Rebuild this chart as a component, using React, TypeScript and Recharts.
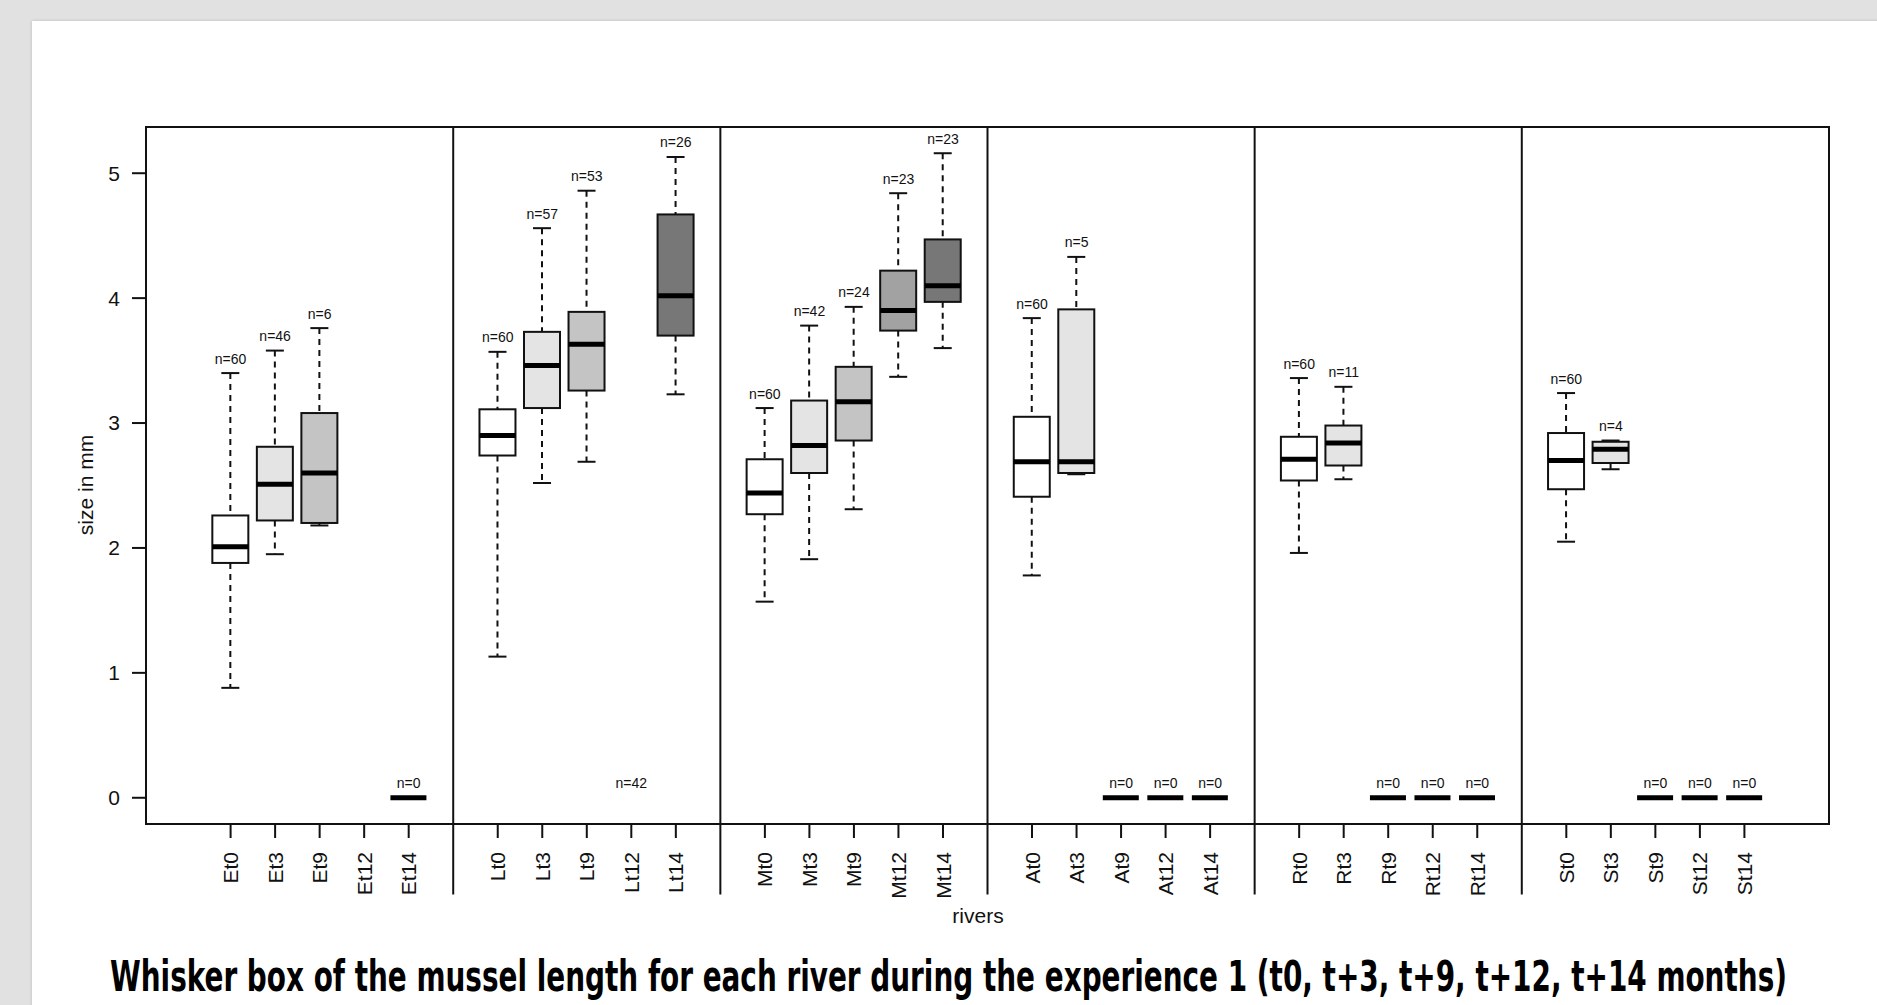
import React from 'react';
import { ComposedChart, Bar, Scatter, XAxis, YAxis, ReferenceLine, ReferenceArea } from 'recharts';

const rivers = ['E', 'L', 'M', 'A', 'R', 'S'];
const periods = ['t0', 't3', 't9', 't12', 't14'];
const periodFills = ['#ffffff', '#e4e4e4', '#c4c4c4', '#a2a2a2', '#777777'];

const categories = rivers.flatMap(r => periods.map(p => r + p));
// one empty slot between two rivers
const positions = rivers.flatMap((_, i) => periods.map((_, j) => i * 6 + j + 1));
const separators = [6, 12, 18, 24, 30];
const yTicks = [0, 1, 2, 3, 4, 5];

// order: E, L, M, A, R, S  x  t0, t3, t9, t12, t14  (null = no box)
const whiskerLow = [
  0.88, 1.95, 2.18, null, 0,
  1.13, 2.52, 2.69, null, 3.23,
  1.57, 1.91, 2.31, 3.37, 3.6,
  1.78, 2.59, 0, 0, 0,
  1.96, 2.55, 0, 0, 0,
  2.05, 2.63, 0, 0, 0,
];
const quartile1 = [
  1.88, 2.22, 2.2, null, 0,
  2.74, 3.12, 3.26, null, 3.7,
  2.27, 2.6, 2.86, 3.74, 3.97,
  2.41, 2.6, 0, 0, 0,
  2.54, 2.66, 0, 0, 0,
  2.47, 2.68, 0, 0, 0,
];
const medians = [
  2.01, 2.51, 2.6, null, 0,
  2.9, 3.46, 3.63, null, 4.02,
  2.44, 2.82, 3.17, 3.9, 4.1,
  2.69, 2.69, 0, 0, 0,
  2.71, 2.84, 0, 0, 0,
  2.7, 2.79, 0, 0, 0,
];
const quartile3 = [
  2.26, 2.81, 3.08, null, 0,
  3.11, 3.73, 3.89, null, 4.67,
  2.71, 3.18, 3.45, 4.22, 4.47,
  3.05, 3.91, 0, 0, 0,
  2.89, 2.98, 0, 0, 0,
  2.92, 2.85, 0, 0, 0,
];
const whiskerHigh = [
  3.4, 3.58, 3.76, null, 0,
  3.57, 4.56, 4.86, null, 5.13,
  3.12, 3.78, 3.93, 4.84, 5.16,
  3.84, 4.33, 0, 0, 0,
  3.36, 3.29, 0, 0, 0,
  3.24, 2.86, 0, 0, 0,
];
const counts = [
  60, 46, 6, null, 0,
  60, 57, 53, 42, 26,
  60, 42, 24, 23, 23,
  60, 5, 0, 0, 0,
  60, 11, 0, 0, 0,
  60, 4, 0, 0, 0,
];

const data = categories.map((name, i) => ({
  name,
  pos: positions[i],
  fill: periodFills[i % 5],
  lo: whiskerLow[i],
  q1: quartile1[i],
  med: medians[i],
  q3: quartile3[i],
  hi: whiskerHigh[i],
  n: counts[i],
}));

const labelData = data
  .filter(d => d.n != null)
  .map(d => ({ pos: d.pos, anchor: d.hi ?? 0, n: d.n }));

const nameByPos: Record<number, string> = {};
data.forEach(d => { nameByPos[d.pos] = d.name; });

const font = "'Liberation Sans', Arial, Helvetica, sans-serif";

const BoxShape = (props: any) => {
  const { x, y, width, height, payload } = props;
  if (payload.hi == null) return null;
  const top = Math.min(y, y + height);
  const bottom = Math.max(y, y + height);
  const cx = x + width / 2;
  const span = payload.hi - payload.lo;
  const yOf = (v: number) => (span === 0 ? top : bottom - ((v - payload.lo) / span) * (bottom - top));
  if (payload.n === 0) {
    return <line x1={x} x2={x + width} y1={top} y2={top} stroke="#000" strokeWidth={5} />;
  }
  const cap = width / 4;
  return (
    <g>
      <line x1={cx} x2={cx} y1={yOf(payload.hi)} y2={yOf(payload.q3)} stroke="#111" strokeWidth={2} strokeDasharray="6 5" />
      <line x1={cx} x2={cx} y1={yOf(payload.q1)} y2={yOf(payload.lo)} stroke="#111" strokeWidth={2} strokeDasharray="6 5" />
      <line x1={cx - cap} x2={cx + cap} y1={yOf(payload.hi)} y2={yOf(payload.hi)} stroke="#111" strokeWidth={2} />
      <line x1={cx - cap} x2={cx + cap} y1={yOf(payload.lo)} y2={yOf(payload.lo)} stroke="#111" strokeWidth={2} />
      <rect x={x} y={yOf(payload.q3)} width={width} height={yOf(payload.q1) - yOf(payload.q3)} fill={payload.fill} stroke="#111" strokeWidth={2} />
      <line x1={x} x2={x + width} y1={yOf(payload.med)} y2={yOf(payload.med)} stroke="#000" strokeWidth={5} />
    </g>
  );
};

const CountLabel = (props: any) => {
  const { cx, cy, payload } = props;
  return (
    <text x={cx} y={cy - 9.5} textAnchor="middle" fontSize={14} fontFamily={font} fill="#111">
      n={payload.n}
    </text>
  );
};

const RotatedTick = (props: any) => {
  const { x, y, payload } = props;
  return (
    <text
      x={x}
      y={y}
      dy="0.36em"
      transform={`rotate(-90, ${x}, ${y})`}
      textAnchor="end"
      fontSize={21}
      fontFamily={font}
      fill="#111"
    >
      {nameByPos[payload.value]}
    </text>
  );
};

export default function App() {
  return (
    <div style={{ position: 'absolute', left: 0, top: 0, width: 1877, height: 1005, background: '#e1e1e1', overflow: 'hidden' }}>
      <div style={{ position: 'absolute', left: 32, top: 21, width: 1860, height: 1000, background: '#fff', boxShadow: '0 0 3px rgba(0,0,0,0.18)' }} />
      <div style={{ position: 'absolute', left: 0, top: 0 }}>
        <ComposedChart width={1877} height={1005} data={data} margin={{ top: 127, right: 48, bottom: 121, left: 86 }}>
          <XAxis
            dataKey="pos"
            type="number"
            domain={[-0.9, 36.9]}
            allowDataOverflow
            ticks={positions}
            interval={0}
            tickSize={14}
            tickMargin={14}
            tickLine={{ stroke: '#111', strokeWidth: 2 }}
            axisLine={false}
            tick={<RotatedTick />}
            height={60}
          />
          <YAxis
            type="number"
            domain={[-0.21, 5.37]}
            allowDataOverflow
            ticks={yTicks}
            interval={0}
            tickSize={14}
            tickMargin={12}
            tickLine={{ stroke: '#111', strokeWidth: 2 }}
            axisLine={false}
            tick={{ fontSize: 21, fontFamily: font, fill: '#111' }}
            width={60}
          />
          <ReferenceArea x1={-0.9} x2={36.9} y1={-0.21} y2={5.37} fill="none" stroke="#111" strokeWidth={2} ifOverflow="visible" />
          {separators.map(s => (
            <ReferenceLine
              key={s}
              segment={[{ x: s, y: 5.37 }, { x: s, y: -0.775 }]}
              stroke="#111"
              strokeWidth={2}
              ifOverflow="visible"
            />
          ))}
          <Bar dataKey={(d: any) => (d.hi == null ? null : [d.lo, d.hi])} barSize={36} shape={<BoxShape />} isAnimationActive={false} />
          <Scatter data={labelData} dataKey="anchor" shape={<CountLabel />} isAnimationActive={false} />
        </ComposedChart>
      </div>
      <svg width={1877} height={1005} style={{ position: 'absolute', left: 0, top: 0, pointerEvents: 'none' }}>
        <text x={93} y={485} transform="rotate(-90, 93, 485)" textAnchor="middle" fontSize={21} fontFamily={font} fill="#111">
          size in mm
        </text>
        <text x={978} y={923} textAnchor="middle" fontSize={21} fontFamily={font} fill="#111">
          rivers
        </text>
        <text
          x={110}
          y={991}
          fontSize={43}
          fontWeight="bold"
          fontFamily="'Liberation Sans Narrow', 'DejaVu Sans Condensed', 'Arial Narrow', sans-serif"
          textLength={1677}
          lengthAdjust="spacingAndGlyphs"
          fill="#000"
        >
          Whisker box of the mussel length for each river during the experience 1 (t0, t+3, t+9, t+12, t+14 months)
        </text>
      </svg>
    </div>
  );
}
